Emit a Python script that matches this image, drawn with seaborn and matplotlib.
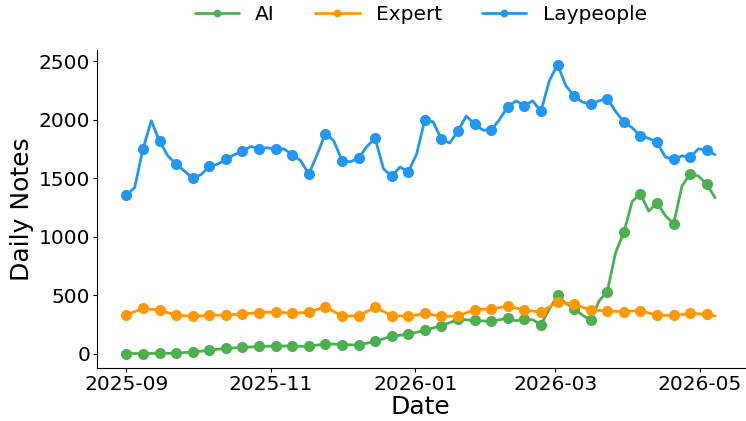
import pandas as pd
import seaborn as sns
import matplotlib.pyplot as plt
import matplotlib.dates as mdates

# weekly values (marker points) and the value half a week later (line only)
lay_week = [1355, 1750, 1815, 1620, 1500, 1600, 1660, 1730, 1750, 1745, 1700, 1535,
            1880, 1650, 1670, 1840, 1515, 1555, 2000, 1830, 1905, 1960, 1910, 2110,
            2120, 2070, 2470, 2200, 2130, 2180, 1980, 1860, 1805, 1660, 1680, 1740]
lay_mid = [1420, 1990, 1690, 1560, 1530, 1620, 1700, 1770, 1760, 1750, 1650, 1700,
           1820, 1640, 1770, 1580, 1595, 1705, 1980, 1800, 2030, 1910, 2000, 2160,
           2160, 2330, 2290, 2150, 2160, 2070, 1930, 1840, 1680, 1690, 1750, 1700]
ai_week = [2, 2, 3, 4, 15, 30, 45, 55, 62, 65, 66, 62,
           85, 78, 75, 105, 150, 166, 200, 239, 293, 284, 276, 305,
           294, 249, 499, 386, 286, 531, 1038, 1365, 1288, 1109, 1538, 1448]
ai_mid = [2, 2, 3, 10, 22, 38, 50, 58, 64, 66, 64, 74,
          82, 76, 90, 128, 158, 183, 220, 266, 290, 280, 290, 282,
          290, 380, 430, 330, 450, 863, 1300, 1218, 1180, 1431, 1517, 1332]
exp_week = [328, 388, 371, 331, 320, 328, 331, 340, 351, 357, 346, 354,
            403, 320, 326, 397, 326, 320, 345, 320, 322, 377, 382, 408,
            371, 357, 442, 422, 374, 365, 360, 368, 328, 328, 345, 337]
exp_mid = [360, 380, 350, 325, 324, 330, 336, 346, 354, 352, 350, 378,
           362, 323, 360, 362, 323, 332, 332, 321, 350, 380, 395, 390,
           364, 400, 432, 398, 370, 362, 364, 348, 328, 336, 341, 322]

series = {'AI': (ai_week, ai_mid, '#4CAF50'),
          'Expert': (exp_week, exp_mid, '#FF9800'),
          'Laypeople': (lay_week, lay_mid, '#2196F3')}

dates = pd.date_range('2025-09-01', periods=72, freq='84h')

sns.set_style('white')
plt.rcParams['font.family'] = ['DejaVu Sans']
plt.rcParams.update({'text.color': 'black', 'axes.labelcolor': 'black',
                     'xtick.color': 'black', 'ytick.color': 'black'})
fig, ax = plt.subplots(figsize=(7.46, 4.21), dpi=100)

for name, (week, mid, color) in series.items():
    vals = []
    for w, m in zip(week, mid):
        vals += [w, m]
    sns.lineplot(x=dates, y=vals, ax=ax, color=color, linewidth=2, label=name,
                 marker='o', markersize=8, markeredgewidth=0, markevery=2)

sns.despine(ax=ax)
ax.tick_params(axis='both', labelsize=14.5, length=3, width=0.8, pad=2,
               bottom=True, left=True)
ax.set_xlabel('Date', fontsize=18, labelpad=1)
ax.set_ylabel('Daily Notes', fontsize=18, labelpad=3)
ax.xaxis.set_major_formatter(mdates.DateFormatter('%Y-%m'))
ax.xaxis.set_major_locator(mdates.MonthLocator(bymonth=[1, 3, 5, 9, 11]))
for s in ['left', 'bottom']:
    ax.spines[s].set_color('black')
    ax.spines[s].set_linewidth(0.8)

ax.get_legend().remove()
fig.legend(*ax.get_legend_handles_labels(), loc='upper center', bbox_to_anchor=(0.564, 1.03),
           ncol=3, frameon=False, fontsize=14.5, markerscale=0.7, handlelength=2.2,
           columnspacing=2)

plt.subplots_adjust(left=0.13, right=0.998, top=0.881, bottom=0.126)
plt.savefig('out.png', dpi=100)
